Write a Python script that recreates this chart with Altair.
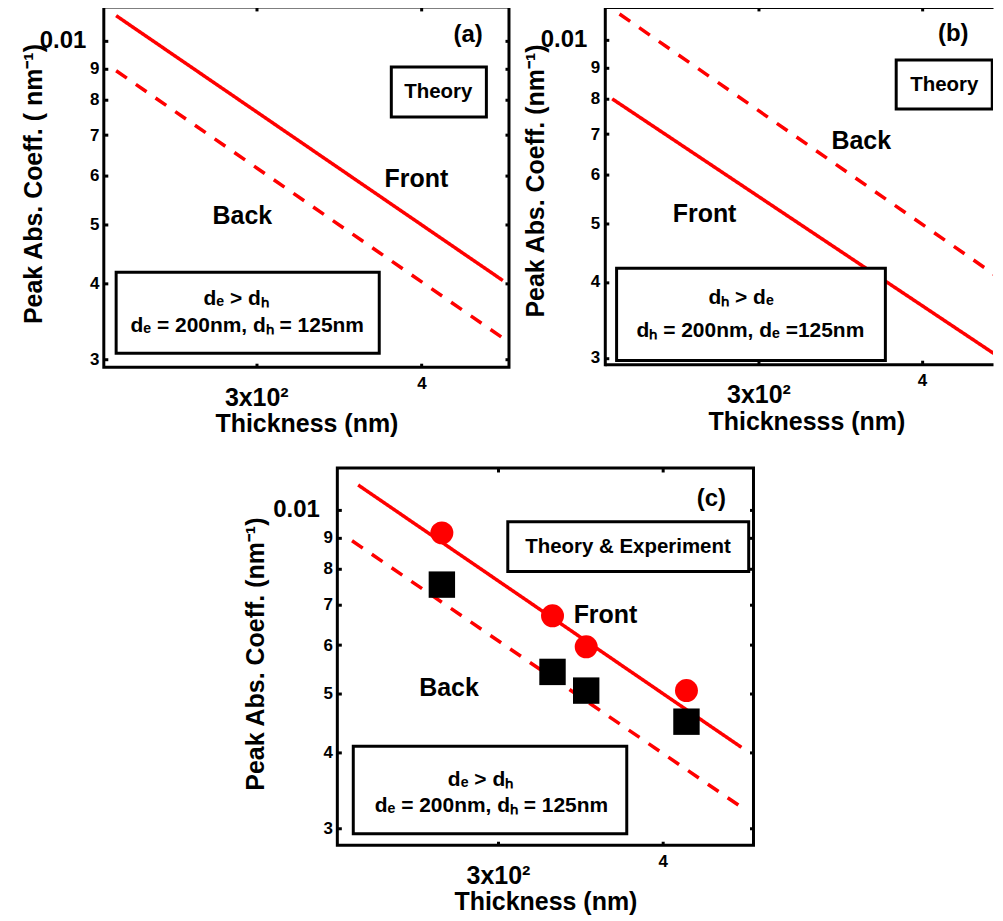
import altair as alt
import pandas as pd

FONT = "Liberation Sans"
RED = "#ff0000"

# ---------------- data ----------------
# panel (a): theory, d_e > d_h
a_front_thickness = [235, 461]
a_front_coeff = [0.0110, 0.00404]
a_back_thickness = [235, 461]
a_back_coeff = [0.00893, 0.00325]

# panel (b): theory, d_h > d_e
b_front_thickness = [232, 457]
b_front_coeff = [0.0080, 0.00302]
b_back_thickness = [235, 459]
b_back_coeff = [0.01103, 0.00405]

# panel (c): theory + experiment
c_front_thickness = [235, 459]
c_front_coeff = [0.01099, 0.004075]
c_back_thickness = [232.5, 459]
c_back_coeff = [0.0089, 0.00325]

exp_thickness = [272, 330, 350, 417]
exp_front_coeff = [0.00917, 0.0067, 0.00596, 0.00505]
exp_back_coeff = [0.00754, 0.00542, 0.00505, 0.00449]

x_tick_values = [300, 400]
y_tick_values = [0.003, 0.004, 0.005, 0.006, 0.007, 0.008, 0.009, 0.01]

# annotation texts (label, thickness, coeff, font size)
a_texts = [("(a)", 434, 0.01023, 24), ("Theory", 412, 0.00825, 20.5),
           ("Front", 396.6, 0.00594, 25), ("Back", 292.8, 0.00515, 25),
           ("d\u2091 > d\u2095", 289.7, 0.003762, 21),
           ("d\u2091 = 200nm, d\u2095 = 125nm", 295.3, 0.003398, 21)]
a_boxes = [(379.6, 448, 0.0075, 0.00906), (235, 371.7, 0.003068, 0.004166)]

b_texts = [("(b)", 422.5, 0.01023, 24), ("Theory", 415.9, 0.00844, 20.5),
           ("Back", 359.4, 0.00683, 25), ("Front", 272.9, 0.005165, 25),
           ("d\u2095 > d\u2091", 291, 0.003762, 21),
           ("d\u2095 = 200nm, d\u2091 =125nm", 295.8, 0.003322, 21)]
b_boxes = [(382.2, 452.5, 0.0077, 0.00927), (233.8, 375, 0.00297, 0.004213)]

c_texts = [("(c)", 435.6, 0.01042, 24), ("Theory & Experiment", 376.5, 0.0087, 20.5),
           ("Front", 362, 0.00673, 25), ("Back", 275.4, 0.00509, 25),
           ("d\u2091 > d\u2095", 291, 0.0036, 21),
           ("d\u2091 = 200nm,  d\u2095 = 125nm", 296.6, 0.00326, 21)]
c_boxes = [(305.2, 464.9, 0.00792, 0.00956), (233, 375.7, 0.00294, 0.00409)]


# ---------------- helpers ----------------
def lines_df(ft, fc, bt, bc):
    rows = [{"t": t, "v": v, "s": "Front"} for t, v in zip(ft, fc)]
    rows += [{"t": t, "v": v, "s": "Back"} for t, v in zip(bt, bc)]
    return pd.DataFrame(rows)


def x_main(title, title_y, title_x=None):
    kw = dict(
        values=x_tick_values,
        labelExpr="datum.value == 300 ? '3x10\u00b2' : '4'",
        labelFont=FONT, labelFontWeight="bold", labelColor="black",
        labelFontSize={"condition": {"test": "datum.value == 300", "value": 25}, "value": 17},
        labelPadding={"condition": {"test": "datum.value == 300", "value": 18}, "value": 8},
        labelOverlap=False, labelFlush=False,
        tickSize=4, tickWidth=3, tickColor="black", offset=-4,
        domain=False, grid=False,
        title=title, titleFont=FONT, titleFontSize=25, titleFontWeight="bold",
        titleColor="black", titleBaseline="alphabetic", titleY=title_y,
    )
    if title_x is not None:
        kw["titleX"] = title_x
    return alt.Axis(orient="bottom", **kw)


def y_main(title, title_x, title_y):
    return alt.Axis(
        orient="left",
        values=y_tick_values,
        labelExpr="datum.value > 0.0095 ? '0.01' : format(datum.value * 1000, '.0f')",
        labelFont=FONT, labelFontWeight="bold", labelColor="black",
        labelFontSize={"condition": {"test": "datum.value > 0.0095", "value": 24}, "value": 17},
        labelPadding={"condition": {"test": "datum.value > 0.0095", "value": 18}, "value": 5},
        labelOverlap=False,
        tickSize=4, tickWidth=3, tickColor="black", offset=-4,
        domain=False, grid=False,
        title=title, titleFont=FONT, titleFontSize=25, titleFontWeight="bold",
        titleColor="black", titleBaseline="alphabetic", titleX=title_x, titleY=title_y,
    )


def mirror_axis(orient, values):
    return alt.Axis(orient=orient, values=values, labels=False, domain=False,
                    tickSize=4, tickWidth=3, tickColor="black", offset=-4,
                    grid=False, title=None, minExtent=0)


def domain_axis(orient, cap):
    return alt.Axis(orient=orient, labels=False, ticks=False, grid=False, title=None,
                    domain=True, domainWidth=3, domainColor="black", domainCap=cap,
                    minExtent=0)


def panel(ldf, texts, boxes, xdom, ydom, width, height, xaxis, yaxis,
          points=None, framed=True):
    xs = alt.Scale(type="log", domain=xdom, nice=False)
    ys = alt.Scale(type="log", domain=ydom, nice=False)

    lines = alt.Chart(ldf).mark_line(color=RED, strokeWidth=3.5, clip=True).encode(
        x=alt.X("t:Q", scale=xs, axis=xaxis),
        y=alt.Y("v:Q", scale=ys, axis=yaxis),
        strokeDash=alt.StrokeDash("s:N", scale=alt.Scale(domain=["Front", "Back"],
                                                         range=[[1, 0], [13, 11]]),
                                  legend=None),
    )

    bdf = pd.DataFrame(boxes, columns=["x", "x2", "y", "y2"])
    tdf = pd.DataFrame(texts, columns=["text", "x", "y", "fs"])

    if framed:
        rect_x_axis = mirror_axis("top", x_tick_values)
        rect_y_axis = mirror_axis("right", y_tick_values)
    else:
        rect_x_axis = domain_axis("top", "butt")
        rect_y_axis = domain_axis("left", "square")

    rects = alt.Chart(bdf).mark_rect(fill="white", stroke="black", strokeWidth=3, clip=True).encode(
        x=alt.X("x:Q", scale=xs, axis=rect_x_axis),
        x2="x2:Q",
        y=alt.Y("y:Q", scale=ys, axis=rect_y_axis),
        y2="y2:Q",
    )

    txt_x_axis = None if framed else domain_axis("bottom", "butt")
    texts_layer = alt.Chart(tdf).mark_text(font=FONT, fontWeight="bold", color="black",
                                           align="center", baseline="middle").encode(
        x=alt.X("x:Q", scale=xs, axis=txt_x_axis),
        y=alt.Y("y:Q", scale=ys, axis=None),
        text="text:N",
        size=alt.Size("fs:Q", scale=None, legend=None),
    )

    layers = [lines]
    if points is not None:
        layers += points(xs, ys)
    layers += [rects, texts_layer]
    if not framed:
        tick_layer = alt.Chart(tdf).mark_text(opacity=0).encode(
            x=alt.X("x:Q", scale=xs, axis=mirror_axis("top", x_tick_values)),
            y=alt.Y("y:Q", scale=ys, axis=None),
            text="text:N",
        )
        layers.append(tick_layer)

    ch = alt.layer(*layers).resolve_axis(x="independent", y="independent").properties(
        width=width, height=height)
    if not framed:
        ch = ch.properties(view=alt.ViewBackground(stroke="transparent"))
    return ch


def exp_points(xs, ys):
    fdf = pd.DataFrame({"t": exp_thickness, "v": exp_front_coeff})
    bdf = pd.DataFrame({"t": exp_thickness, "v": exp_back_coeff})
    circ = alt.Chart(fdf).mark_point(shape="circle", filled=True, opacity=1, color=RED,
                                     size=530).encode(
        x=alt.X("t:Q", scale=xs, axis=None), y=alt.Y("v:Q", scale=ys, axis=None))
    sq = alt.Chart(bdf).mark_point(shape="square", filled=True, opacity=1, color="black",
                                   size=700).encode(
        x=alt.X("t:Q", scale=xs, axis=None), y=alt.Y("v:Q", scale=ys, axis=None))
    return [circ, sq]


# ---------------- panels ----------------
pa = panel(lines_df(a_front_thickness, a_front_coeff, a_back_thickness, a_back_coeff),
           a_texts, a_boxes, [230, 466], [0.00291, 0.01137], 406, 361,
           x_main("Thickness (nm)", 68),
           y_main("Peak Abs. Coeff. ( nm\u207b\u00b9)", -66, 177))

pb = panel(lines_df(b_front_thickness, b_front_coeff, b_back_thickness, b_back_coeff),
           b_texts, b_boxes, [229, 453.1], [0.00293, 0.01133], 389, 358,
           x_main("Thicknesss (nm)", 69, 202),
           y_main("Peak Abs. Coeff. (nm\u207b\u00b9)", -65, 174), framed=False)

pc = panel(lines_df(c_front_thickness, c_front_coeff, c_back_thickness, c_back_coeff),
           c_texts, c_boxes, [226.6, 468.8], [0.002814, 0.01172], 417, 378,
           x_main("Thickness (nm)", 68),
           y_main("Peak Abs. Coeff. (nm\u207b\u00b9)", -78, 186), points=exp_points)

spacer = alt.Chart(pd.DataFrame({"v": [1]})).mark_point(opacity=0).encode(
    x=alt.X("v:Q", axis=None), y=alt.Y("v:Q", axis=None)
).properties(width=234, height=10, view=alt.ViewBackground(stroke="transparent"))

top = alt.hconcat(pa, pb, spacing=96, bounds="flush")
bottom = alt.hconcat(spacer, pc, spacing=0, bounds="flush")

chart = alt.vconcat(top, bottom, spacing=25).properties(
    padding={"left": 12, "top": -5, "right": 0, "bottom": 0},
    background="white",
).configure_view(stroke="black", strokeWidth=3).configure_axis(grid=False)

chart.save("out.html", embed_options={"renderer": "svg", "actions": False})
